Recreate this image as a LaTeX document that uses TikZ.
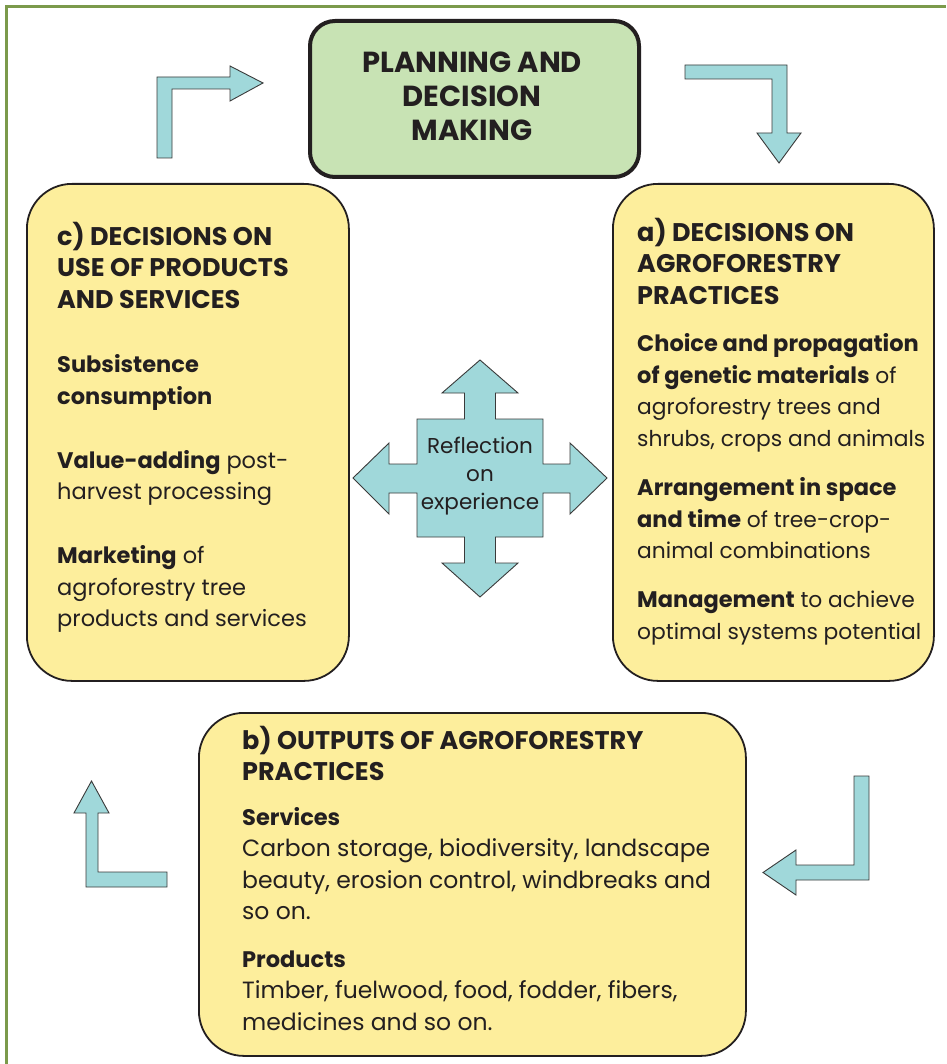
\documentclass[tikz,border=0pt]{standalone}
\usepackage{fontspec}
\setmainfont{Poppins}
\definecolor{framegreen}{HTML}{7B9A4B}
\definecolor{plangreen}{HTML}{C8E3B4}
\definecolor{boxyellow}{HTML}{FDEE9C}
\definecolor{arrowteal}{HTML}{A0D8DA}
\definecolor{ink}{HTML}{231F20}
\definecolor{edgegray}{HTML}{3A3A3A}
\newcommand{\hd}[1]{{\bfseries\fontsize{25.5}{31.5}\selectfont #1}}
\newcommand{\bd}[1]{{\bfseries\fontsize{22.5}{31.5}\selectfont #1}}
\tikzset{
  ybox/.style={draw=ink, line width=1.8pt, fill=boxyellow, rounded corners=45pt, anchor=north west, inner sep=0pt},
  planbox/.style={draw=ink, line width=4pt, fill=plangreen, rounded corners=25pt, anchor=north west, inner sep=0pt},
  blockarrow/.style={draw=edgegray, line width=0.9pt, fill=arrowteal, line join=miter},
  bodytext/.style={text=ink, align=left, anchor=base west, inner sep=0pt, font=\fontsize{22.5}{31.5}\selectfont},
}
\begin{document}
\begin{tikzpicture}[x=1pt,y=-1pt]
\useasboundingbox (0,0) rectangle (946,1064);
\fill[white] (0,0) rectangle (946,1064);
% frame
\draw[framegreen, line width=3pt] (6.5,1064) -- (6.5,6.5) -- (946,6.5);

% boxes
\node[planbox, minimum width=329pt, minimum height=156pt] (plan) at (308,19) {};
\node[text=ink, align=center, font=\bfseries\fontsize{29}{34}\selectfont] (plantext) at (472,96) {PLANNING AND\\DECISION\\MAKING};

\node[ybox, minimum width=322pt, minimum height=497pt] (boxc) at (26,183) {};
\node[ybox, minimum width=321pt, minimum height=497pt] (boxa) at (612,183) {};
\node[ybox, minimum width=547pt, minimum height=343pt] (boxb) at (198,712) {};

% box c text (anchored at the baseline of its last line)
\node[bodytext] (textc) at (57,626.5) {\hd{c) DECISIONS ON}\\\hd{USE OF PRODUCTS}\\\hd{AND SERVICES}\\[33pt]
\bd{Subsistence}\\\bd{consumption}\\[32.5pt]
\bd{Value-adding} post-\\harvest processing\\[32.5pt]
\bd{Marketing} of\\agroforestry tree\\products and services};

% box a text
\node[bodytext, font=\fontsize{21.8}{31.5}\selectfont] (texta) at (637,639) {\hd{a) DECISIONS ON}\\\hd{AGROFORESTRY}\\\hd{PRACTICES}\\[16pt]
\bd{Choice and propagation}\\\bd{of genetic materials} of\\agroforestry trees and\\shrubs, crops and animals\\[18pt]
\bd{Arrangement in space}\\\bd{and time} of tree-crop-\\animal combinations\\[17.5pt]
\bd{Management} to achieve\\optimal systems potential};

% box b text
\node[bodytext, font=\fontsize{23.5}{31.5}\selectfont] (textb) at (242,1030) {\hd{b) OUTPUTS OF AGROFORESTRY}\\\hd{PRACTICES}\\[13pt]
\bd{Services}\\Carbon storage, biodiversity, landscape\\beauty, erosion control, windbreaks and\\so on.\\[16pt]
\bd{Products}\\Timber, fuelwood, food, fodder, fibers,\\medicines and so on.};

% central cross arrow
\draw[blockarrow] (480,360) -- (518,393) -- (495.5,393) -- (495.5,419) -- (543,419) -- (543,464) -- (570,464) -- (570,443) -- (607,478) -- (570,514) -- (570,493) -- (543,493) -- (543,537) -- (495.5,537) -- (495.5,563) -- (518,563) -- (480,597) -- (442,563) -- (464.5,563) -- (464.5,537) -- (417,537) -- (417,493) -- (389,493) -- (389,514) -- (353,478) -- (389,443) -- (389,464) -- (417,464) -- (417,419) -- (464.5,419) -- (464.5,393) -- (442,393) -- cycle;
\node[text=ink, align=center, font=\fontsize{21.5}{28}\selectfont] (refl) at (480,476) {Reflection\\on\\experience};

% bent arrows
\draw[blockarrow] (157,158) -- (157,77) -- (230,77) -- (230,66) -- (263,83) -- (230,101) -- (230,89) -- (172,89) -- (172,158) -- cycle;
\draw[blockarrow] (685,65) -- (787,65) -- (787,133) -- (801,133) -- (779,163) -- (757,133) -- (772,133) -- (772,79) -- (685,79) -- cycle;
\draw[blockarrow] (86,887) -- (167,887) -- (167,872) -- (98,872) -- (98,813) -- (109,813) -- (91.5,781) -- (74,813) -- (86,813) -- cycle;
\draw[blockarrow] (854,776) -- (869,776) -- (869,880) -- (796,880) -- (796,895) -- (763,872.5) -- (796,850) -- (796,865) -- (854,865) -- cycle;
\end{tikzpicture}
\end{document}
